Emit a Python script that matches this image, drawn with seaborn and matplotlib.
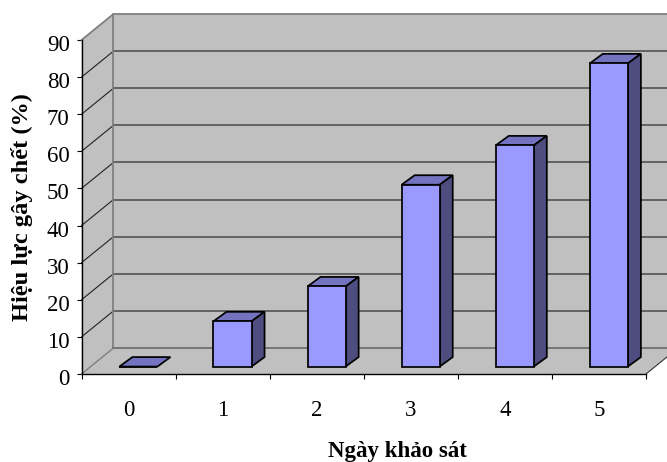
import matplotlib
matplotlib.use('Agg')
import matplotlib.pyplot as plt
from matplotlib.transforms import ScaledTranslation
import seaborn as sns
import pandas as pd

# du lieu doc tu hinh
days = ['0', '1', '2', '3', '4', '5']
values = [0, 12.2, 21.6, 49.0, 59.6, 81.7]
y_ticks = [0, 10, 20, 30, 40, 50, 60, 70, 80, 90]
x_title = 'Ngày khảo sát'
y_title = 'Hiệu lực gây chết (%)'

sns.set_theme(style='white')
plt.rcParams['font.family'] = ['Liberation Serif', 'DejaVu Serif']

W, H = 667, 462
fig = plt.figure(figsize=(W / 100, H / 100), dpi=100)
# vi tri truc tinh theo pixel
ax = fig.add_axes([81.5 / W, (H - 374) / H, 564.5 / W, 334 / H])
ax.patch.set_visible(False)

df = pd.DataFrame({'day': days, 'value': values})
sns.barplot(data=df, x='day', y='value', color='#9999FF', saturation=1, width=0.405,
            edgecolor='black', linewidth=1.25, zorder=3, ax=ax)
ax.set_xlim(-0.5, 5.5)
ax.set_ylim(0, 90)

# do sau gia 3D, tinh theo don vi du lieu
depth_x = 32 / 94.1
depth_y = 26 / 3.711

wall_c = '#C0C0C0'
edge_c = '#808080'
# tuong sau, tuong trai, san
ax.fill([-0.5 + depth_x, 5.5 + depth_x, 5.5 + depth_x, -0.5 + depth_x],
        [depth_y, depth_y, 90 + depth_y, 90 + depth_y],
        color=wall_c, lw=0, zorder=0, clip_on=False)
ax.fill([-0.5, -0.5 + depth_x, -0.5 + depth_x, -0.5],
        [0, depth_y, 90 + depth_y, 90],
        color=wall_c, lw=0, zorder=0, clip_on=False)
ax.fill([-0.5, 5.5, 5.5 + depth_x, -0.5 + depth_x],
        [0, 0, depth_y, depth_y],
        color=wall_c, lw=0, zorder=0, clip_on=False)

# luoi ngang
for t in y_ticks[1:-1]:
    ax.plot([-0.5, -0.5 + depth_x], [t, t + depth_y], color='#222222', lw=0.8, zorder=1, clip_on=False)
    ax.plot([-0.5 + depth_x, 5.5 + depth_x], [t + depth_y, t + depth_y], color='#484848', lw=1.1, zorder=1, clip_on=False)

# khung tuong mau xam
ax.plot([-0.5, -0.5 + depth_x, 5.5 + depth_x], [90, 90 + depth_y, 90 + depth_y], color=edge_c, lw=1.3, zorder=1, clip_on=False)
ax.plot([-0.5 + depth_x, -0.5 + depth_x], [depth_y, 90 + depth_y], color=edge_c, lw=1.3, zorder=1, clip_on=False)
ax.plot([-0.5, -0.5 + depth_x], [0, depth_y], color=edge_c, lw=1.0, zorder=1, clip_on=False)
ax.plot([-0.5 + depth_x, 5.5 + depth_x], [depth_y, depth_y], color='#707070', lw=1.3, zorder=1, clip_on=False)
ax.plot([5.5, 5.5 + depth_x], [0, depth_y], color='#333333', lw=0.8, zorder=1, clip_on=False)

# day cot ra giua san roi ve mat tren, mat ben
shift_x = 0.105
shift_y = 2.0
bar_dx = 13 / 94.1
bar_dy = 9.5 / 3.711
for bar in ax.patches:
    if bar.get_zorder() != 3:
        continue
    bar.set_x(bar.get_x() + shift_x)
    bar.set_y(shift_y)
    x0 = bar.get_x()
    x1 = x0 + bar.get_width()
    y0 = bar.get_y()
    y1 = y0 + bar.get_height()
    ax.fill([x0, x1, x1 + bar_dx, x0 + bar_dx], [y1, y1, y1 + bar_dy, y1 + bar_dy],
            facecolor='#7373BF', edgecolor='black', lw=1.25, zorder=2.5, clip_on=False)
    if y1 > y0:
        ax.fill([x1, x1 + bar_dx, x1 + bar_dx, x1], [y0, y0 + bar_dy, y1 + bar_dy, y1],
                facecolor='#4D4D80', edgecolor='black', lw=1.25, zorder=2.5, clip_on=False)

for s in ['top', 'right']:
    ax.spines[s].set_visible(False)
for s in ['left', 'bottom']:
    ax.spines[s].set_color('black')
    ax.spines[s].set_linewidth(1.0)
    ax.spines[s].set_zorder(4)

ax.set_yticks(y_ticks)
ax.set_xticks([i - 0.5 for i in range(7)])
ax.set_xticks(range(6), days, minor=True)
ax.tick_params(axis='x', which='major', bottom=True, length=3.6, width=0.8, color='black', labelbottom=False)
ax.tick_params(axis='x', which='minor', bottom=False, pad=15, labelsize=16.5, labelcolor='black')
ax.tick_params(axis='y', left=True, length=3.6, width=0.8, color='black', pad=3.5, labelsize=16.5, labelcolor='black')

# chu so truc y nam thap hon vach mot chut, lui trai them
shift = ScaledTranslation(-2 / 100, -3 / 100, fig.dpi_scale_trans)
for lab in ax.get_yticklabels():
    lab.set_transform(lab.get_transform() + shift)

ax.set_xlabel(x_title, fontsize=16.5, fontweight='bold', color='black')
ax.xaxis.set_label_coords(0.5598, -0.2)
ax.set_ylabel(y_title, fontsize=17.6, fontweight='bold', color='black')
ax.yaxis.set_label_coords(-0.086, 0.5)

fig.savefig('out.png', dpi=100, facecolor='white')
